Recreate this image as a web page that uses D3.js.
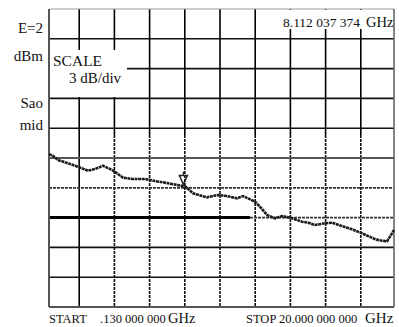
<!DOCTYPE html>
<html>
<head>
<meta charset="utf-8">
<script src="https://cdn.jsdelivr.net/npm/d3@7"></script>
<style>
  body { margin: 0; background: #fff; }
  text { font-family: "Liberation Serif", "DejaVu Serif", serif; fill: #111; }
</style>
</head>
<body>
<div class="chart"></div>
<script>
var svgWidth = 399;
var svgHeight = 327;

// trace: frequency (GHz) and level (dB, relative to top line)
var freqs = [0.41, 0.58, 0.92, 1.48, 2.05, 2.61, 3.01, 3.46, 3.97, 4.25, 4.59, 5.10, 5.83, 6.40, 6.85, 7.36,
  8.11, 8.54, 9.33, 9.95, 10.46, 11.03, 11.36, 12.04, 12.32, 12.72, 13.17, 13.57, 14.13, 14.69, 15.03,
  15.43, 15.99, 16.39, 16.95, 17.52, 18.08, 18.42, 18.82, 19.21, 19.49, 19.66, 19.89];
var levels = [-14.65, -14.70, -15.20, -15.53, -15.88, -16.28, -16.11, -15.78, -16.21, -16.54, -16.98, -17.11,
  -17.11, -17.32, -17.45, -17.62, -17.87, -18.55, -18.96, -18.72, -18.83, -19.06, -18.83, -19.40, -19.90,
  -20.74, -21.07, -20.84, -21.07, -21.41, -21.51, -21.74, -21.57, -21.51, -21.85, -22.18, -22.58, -22.85,
  -23.18, -23.33, -23.39, -22.92, -22.25];

var startFreq = 0.13;
var stopFreq = 20.0;
var markerFreq = 8.112;
var displayLine = -18;
var limitLine = -21;
var limitEnd = 11.76;

var leftLabels = ["E=2", "dBm", "Sao", "mid"];
var markerLabel = "8.112 037 374";
var startLabel = ".130 000 000";
var stopLabel = "20.000 000 000";

var frame = { left: 49, right: 394, top: 9, bottom: 307 };

var svg = d3.select(".chart")
  .append("svg")
  .attr("width", svgWidth)
  .attr("height", svgHeight);

// the grid is 10 x 10 divisions, the frame cuts a bit of the first one
var x = d3.scaleLinear().domain([startFreq, stopFreq]).range([44, 396]);
var y = d3.scaleLinear().domain([-30, 0]).range([frame.bottom, frame.top]);

var xTicks = d3.range(1, 10).map(i => startFreq + i * (stopFreq - startFreq) / 10);
var yTicks = d3.range(1, 10).map(i => -30 + i * 3);

// vertical grid: solid in the upper part, speckled lower down
var vGrid = svg.append("g");
xTicks.forEach(function(f, i) {
  vGrid.append("line")
    .attr("x1", x(f)).attr("x2", x(f))
    .attr("y1", frame.top).attr("y2", i === 0 ? frame.bottom : 135)
    .attr("stroke", "#000").attr("stroke-width", 1.6);
  if (i > 0) {
    vGrid.append("line")
      .attr("x1", x(f)).attr("x2", x(f))
      .attr("y1", 135).attr("y2", frame.bottom)
      .attr("stroke", "#111").attr("stroke-width", 1.6)
      .attr("stroke-dasharray", "3,1");
  }
});

// horizontal grid
yTicks.forEach(function(v) {
  if (v === displayLine || v === limitLine) return;
  svg.append("line")
    .attr("x1", frame.left).attr("x2", frame.right)
    .attr("y1", y(v)).attr("y2", y(v))
    .attr("stroke", v === -15 ? "#555" : "#111")
    .attr("stroke-width", v === -15 ? 2.2 : 1.6);
});

// display line
svg.append("line")
  .attr("x1", frame.left).attr("x2", frame.right)
  .attr("y1", y(displayLine)).attr("y2", y(displayLine))
  .attr("stroke", "#333").attr("stroke-width", 1.8)
  .attr("stroke-dasharray", "3,1");

// limit line: heavy on the left, speckled after
svg.append("line")
  .attr("x1", frame.left).attr("x2", x(limitEnd))
  .attr("y1", y(limitLine)).attr("y2", y(limitLine))
  .attr("stroke", "#000").attr("stroke-width", 3);
svg.append("line")
  .attr("x1", x(limitEnd)).attr("x2", frame.right)
  .attr("y1", y(limitLine)).attr("y2", y(limitLine))
  .attr("stroke", "#333").attr("stroke-width", 1.8)
  .attr("stroke-dasharray", "3,1");

// frame
svg.append("line").attr("x1", frame.left).attr("x2", frame.right)
  .attr("y1", frame.top).attr("y2", frame.top)
  .attr("stroke", "#999").attr("stroke-width", 1.2);
svg.append("line").attr("x1", frame.left).attr("x2", frame.right)
  .attr("y1", frame.bottom).attr("y2", frame.bottom)
  .attr("stroke", "#555").attr("stroke-width", 2);
svg.append("line").attr("x1", frame.left).attr("x2", frame.left)
  .attr("y1", frame.top).attr("y2", frame.bottom)
  .attr("stroke", "#555").attr("stroke-width", 2);
svg.append("line").attr("x1", frame.right).attr("x2", frame.right)
  .attr("y1", frame.top).attr("y2", frame.bottom)
  .attr("stroke", "#666").attr("stroke-width", 1.6);

// trace
var trace = freqs.map((f, i) => [f, levels[i]]);
var line = d3.line()
  .x(d => x(d[0]))
  .y(d => y(d[1]));

svg.append("path")
  .datum(trace)
  .attr("d", line)
  .attr("fill", "none")
  .attr("stroke", "#1a1a1a")
  .attr("stroke-width", 2.6)
  .attr("stroke-dasharray", "3,0.6");

// marker triangle sits on the trace point at the marker frequency
var mi = d3.minIndex(freqs, f => Math.abs(f - markerFreq));
var mx = x(freqs[mi]) - 2, my = y(levels[mi]);
svg.append("path")
  .attr("d", `M${mx - 4},${my - 11} L${mx + 4},${my - 11} L${mx},${my - 2} Z`)
  .attr("fill", "none")
  .attr("stroke", "#222")
  .attr("stroke-width", 1.5);
svg.append("line")
  .attr("x1", mx).attr("x2", mx)
  .attr("y1", my - 15).attr("y2", my - 11)
  .attr("stroke", "#222").attr("stroke-width", 1.2);

// boxes behind the annotations
svg.append("rect").attr("x", 50).attr("y", 50).attr("width", 77).attr("height", 47).attr("fill", "#fff");
svg.append("rect").attr("x", 280).attr("y", 10).attr("width", 113).attr("height", 19).attr("fill", "#fff");

// left labels
var leftY = [33, 61, 108, 130];
leftLabels.forEach(function(t, i) {
  svg.append("text")
    .attr("x", 43).attr("y", leftY[i])
    .attr("text-anchor", "end")
    .attr("font-size", "15px")
    .text(t);
});

svg.append("text").attr("x", 53).attr("y", 66).attr("font-size", "15.5px").text("SCALE");
svg.append("text").attr("x", 69).attr("y", 83).attr("font-size", "15px").text("3 dB/div");

svg.append("text").attr("x", 283).attr("y", 27).attr("font-size", "13.5px").text(markerLabel);
svg.append("text").attr("x", 366).attr("y", 27).attr("font-size", "14.5px").text("GHz");

svg.append("text").attr("x", 49).attr("y", 323).attr("font-size", "12.5px").text("START");
svg.append("text").attr("x", 100).attr("y", 323).attr("font-size", "12.5px").text(startLabel);
svg.append("text").attr("x", 168).attr("y", 323).attr("font-size", "14.5px").text("GHz");
svg.append("text").attr("x", 246).attr("y", 323).attr("font-size", "12.5px").text("STOP " + stopLabel);
svg.append("text").attr("x", 365).attr("y", 323).attr("font-size", "15px").text("GHz");
</script>
</body>
</html>
